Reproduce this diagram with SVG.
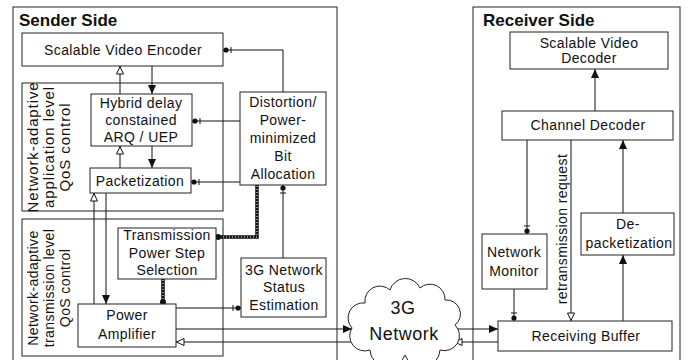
<svg xmlns="http://www.w3.org/2000/svg" width="691" height="360" viewBox="0 0 691 360">
<defs>
<style>
.box{fill:#fff;stroke:#222;stroke-width:1}
.frame{fill:none;stroke:#222;stroke-width:1}
.t{font-family:"Liberation Sans",Arial,sans-serif;font-size:14px;letter-spacing:0.4px;text-anchor:middle;fill:#111}
.title{font-family:"Liberation Sans",Arial,sans-serif;font-size:17px;font-weight:bold;fill:#111}
.ln{fill:none;stroke:#111;stroke-width:1}
.thickA{fill:none;stroke:#111;stroke-width:3.5}
.thickB{fill:none;stroke:#fff;stroke-width:1;stroke-dasharray:1 2}
</style>
<marker id="arr" markerUnits="userSpaceOnUse" markerWidth="10" markerHeight="8" refX="9" refY="4" orient="auto">
<path d="M0,0 L9,4 L0,8 z" fill="#111"/>
</marker>
<marker id="open" markerUnits="userSpaceOnUse" markerWidth="10" markerHeight="9" refX="9" refY="4.5" orient="auto">
<path d="M1,1 L8.5,4.5 L1,8 z" fill="#fff" stroke="#111" stroke-width="1"/>
</marker>
<marker id="dotbar" markerUnits="userSpaceOnUse" markerWidth="12" markerHeight="10" refX="11" refY="5" orient="auto">
<line x1="3" y1="2" x2="3" y2="8" stroke="#111" stroke-width="1"/>
<circle cx="8" cy="5" r="2.6" fill="#111"/>
</marker>
</defs>
<rect width="691" height="360" fill="#fff"/>

<g id="sender-side">
<rect class="frame" x="13" y="7" width="324" height="360"/>
<text class="title" x="19" y="26">Sender Side</text>
</g>
<g id="app-qos">
<rect class="frame" x="22" y="83" width="201" height="128"/>
<text class="t" style="font-size:15px;letter-spacing:0.9px" transform="translate(38,147) rotate(-90)"><tspan x="0" y="0">Network-adaptive</tspan><tspan x="0" y="16">application level</tspan><tspan x="0" y="32">QoS control</tspan></text>
</g>
<g id="trans-qos">
<rect class="frame" x="22" y="219" width="201" height="137"/>
<text class="t" transform="translate(38,288) rotate(-90)"><tspan x="0" y="0">Network-adaptive</tspan><tspan x="0" y="16">transmission level</tspan><tspan x="0" y="32">QoS control</tspan></text>
</g>
<g id="receiver-side">
<rect class="frame" x="473" y="7" width="207" height="360"/>
<text class="title" x="483" y="26">Receiver Side</text>
</g>

<g id="connectors">
<path class="ln" d="M152,66 V94" marker-end="url(#arr)"/>
<path class="ln" d="M120,94 V66" marker-end="url(#open)"/>
<path class="ln" d="M152,146 V168" marker-end="url(#arr)"/>
<path class="ln" d="M120,168 V146" marker-end="url(#open)"/>
<path class="ln" d="M106,193 V304" marker-end="url(#arr)"/>
<path class="ln" d="M94,304 V193" marker-end="url(#open)"/>
<path class="ln" d="M283,92 V50 H223" marker-end="url(#dotbar)"/>
<path class="ln" d="M240,121 H192" marker-end="url(#dotbar)"/>
<path class="ln" d="M240,182 H191" marker-end="url(#dotbar)"/>
<path class="ln" d="M283,258 V185" marker-end="url(#dotbar)"/>
<path class="ln" d="M176,308 H241" marker-end="url(#dotbar)"/>
<path class="thickA" d="M257,185 V237 H218"/>
<path class="thickB" d="M257,186 V237 H219"/>
<circle cx="218" cy="237" r="3" fill="#111"/>
<path class="thickA" d="M163,279 V302"/>
<path class="thickB" d="M163,280 V301"/>
<circle cx="163" cy="302" r="3" fill="#111"/>
<path class="ln" d="M176,329 H352" marker-end="url(#arr)"/>
<path class="ln" d="M448,329 H498" marker-end="url(#arr)"/>
<path class="ln" d="M498,342 H454" marker-end="url(#open)"/>
<path class="ln" d="M356,342 H176" marker-end="url(#open)"/>
<path class="ln" d="M595,111 V69" marker-end="url(#arr)"/>
<path class="ln" d="M623,321 V255" marker-end="url(#arr)"/>
<path class="ln" d="M623,213 V140" marker-end="url(#arr)"/>
<path class="ln" d="M527,140 V234" marker-end="url(#dotbar)"/>
<path class="ln" d="M514,289 V321" marker-end="url(#dotbar)"/>
<path class="ln" d="M571,140 V321" marker-end="url(#open)"/>
<text class="t" transform="translate(567,229) rotate(-90)">retransmission request</text>
</g>

<g id="encoder">
<rect class="box" x="22" y="33" width="201" height="33"/>
<text class="t" x="123" y="54.5">Scalable Video Encoder</text>
</g>
<g id="hybrid">
<rect class="box" x="91" y="94" width="101" height="52"/>
<text class="t"><tspan x="141" y="108">Hybrid delay</tspan><tspan x="141" y="125">constained</tspan><tspan x="141" y="142">ARQ / UEP</tspan></text>
</g>
<g id="packetization">
<rect class="box" x="90" y="168" width="101" height="25"/>
<text class="t" x="140" y="186">Packetization</text>
</g>
<g id="distortion">
<rect class="box" x="240" y="92" width="86" height="93"/>
<text class="t"><tspan x="283" y="107">Distortion/</tspan><tspan x="283" y="125">Power-</tspan><tspan x="283" y="143">minimized</tspan><tspan x="283" y="161">Bit</tspan><tspan x="283" y="179">Allocation</tspan></text>
</g>
<g id="tpss">
<rect class="box" x="118" y="228" width="98" height="51"/>
<text class="t"><tspan x="167" y="240">Transmission</tspan><tspan x="167" y="257.5">Power Step</tspan><tspan x="167" y="275">Selection</tspan></text>
</g>
<g id="power-amplifier">
<rect class="box" x="78" y="304" width="98" height="43"/>
<text class="t"><tspan x="127" y="320">Power</tspan><tspan x="127" y="339">Amplifier</tspan></text>
</g>
<g id="status-estimation">
<rect class="box" x="241" y="258" width="85" height="59"/>
<text class="t"><tspan x="284" y="275">3G Network</tspan><tspan x="284" y="292">Status</tspan><tspan x="284" y="310">Estimation</tspan></text>
</g>
<g id="network-cloud">
<path class="box" d="M352,328 A15,15 0 0 1 365,303 A15,15 0 0 1 390,290 A16,16 0 0 1 420,288 A15,15 0 0 1 445,300 A14,14 0 0 1 455,325 A15,15 0 0 1 440,350 A18,18 0 0 1 405,355 A18,18 0 0 1 370,350 A15,15 0 0 1 352,328 z"/>
<text class="t" style="font-size:18px;letter-spacing:0.5px"><tspan x="403" y="314">3G</tspan><tspan x="404" y="340">Network</tspan></text>
</g>
<g id="decoder">
<rect class="box" x="510" y="32" width="158" height="37"/>
<text class="t"><tspan x="589" y="48">Scalable Video</tspan><tspan x="589" y="63">Decoder</tspan></text>
</g>
<g id="channel-decoder">
<rect class="box" x="502" y="111" width="171" height="29"/>
<text class="t" x="588" y="130">Channel Decoder</text>
</g>
<g id="network-monitor">
<rect class="box" x="482" y="234" width="65" height="55"/>
<text class="t"><tspan x="514" y="257">Network</tspan><tspan x="514" y="276">Monitor</tspan></text>
</g>
<g id="depacketization">
<rect class="box" x="581" y="213" width="93" height="42"/>
<text class="t"><tspan x="628" y="229">De-</tspan><tspan x="629" y="248">packetization</tspan></text>
</g>
<g id="receiving-buffer">
<rect class="box" x="498" y="321" width="174" height="30"/>
<text class="t" x="586" y="341">Receiving Buffer</text>
</g>
</svg>
